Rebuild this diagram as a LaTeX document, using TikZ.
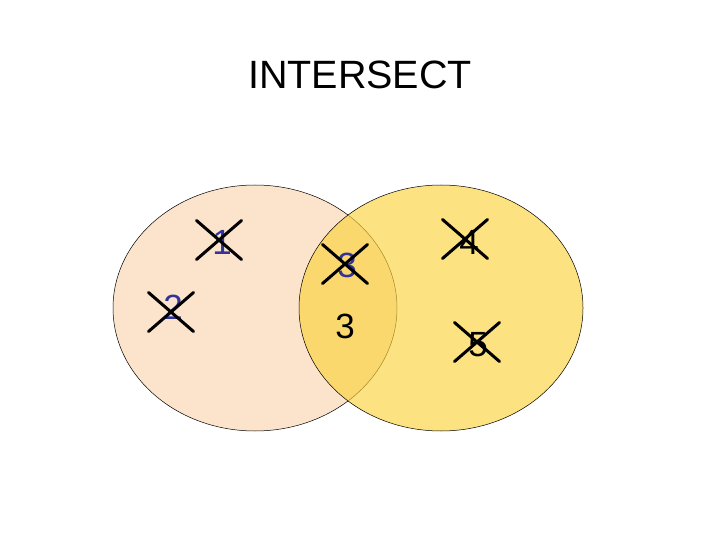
\documentclass[tikz,border=0pt]{standalone}
\usepackage{fontspec}
\setmainfont{Liberation Sans}
\usetikzlibrary{shapes.geometric,shapes.misc}

\definecolor{peach}{RGB}{252,228,204}
\definecolor{gold}{RGB}{250,210,60}
\definecolor{digitblue}{RGB}{51,51,153}

\begin{document}
\begin{tikzpicture}[
    x=1pt, y=-1pt,
    setbox/.style={
        draw,
        ellipse,
        line width=0.5pt,
        minimum width=284pt,
        minimum height=246pt
    },
    digit/.style={
        inner sep=0pt,
        font=\fontsize{35}{35}\selectfont
    },
    struck/.style={
        cross out,
        draw,
        line width=3pt,
        line cap=round,
        inner sep=0pt,
        minimum width=42pt,
        minimum height=36pt
    }
]
\useasboundingbox (0,0) rectangle (720,540);

\node[font=\fontsize{39.5}{39.5}\selectfont] (title) at (360,75) {INTERSECT};

\node[setbox, fill=peach] (setA) at (255,308) {};
\node[setbox, fill=gold, fill opacity=0.65] (setB) at (441,308) {};

\node[digit, text=digitblue] (one) at (222,242) {1};
\node[digit, text=digitblue] (two) at (173,307) {2};
\node[digit, text=digitblue] (three) at (347,265) {3};
\node[digit] (four) at (469,242) {4};
\node[digit] (five) at (478,345) {5};
\node[digit] (common) at (345,326) {3};

\node[struck] (xone) at (219,240) {};
\node[struck] (xtwo) at (171,312) {};
\node[struck] (xthree) at (345,264) {};
\node[struck] (xfour) at (465,239) {};
\node[struck] (xfive) at (477,342) {};

\end{tikzpicture}
\end{document}
